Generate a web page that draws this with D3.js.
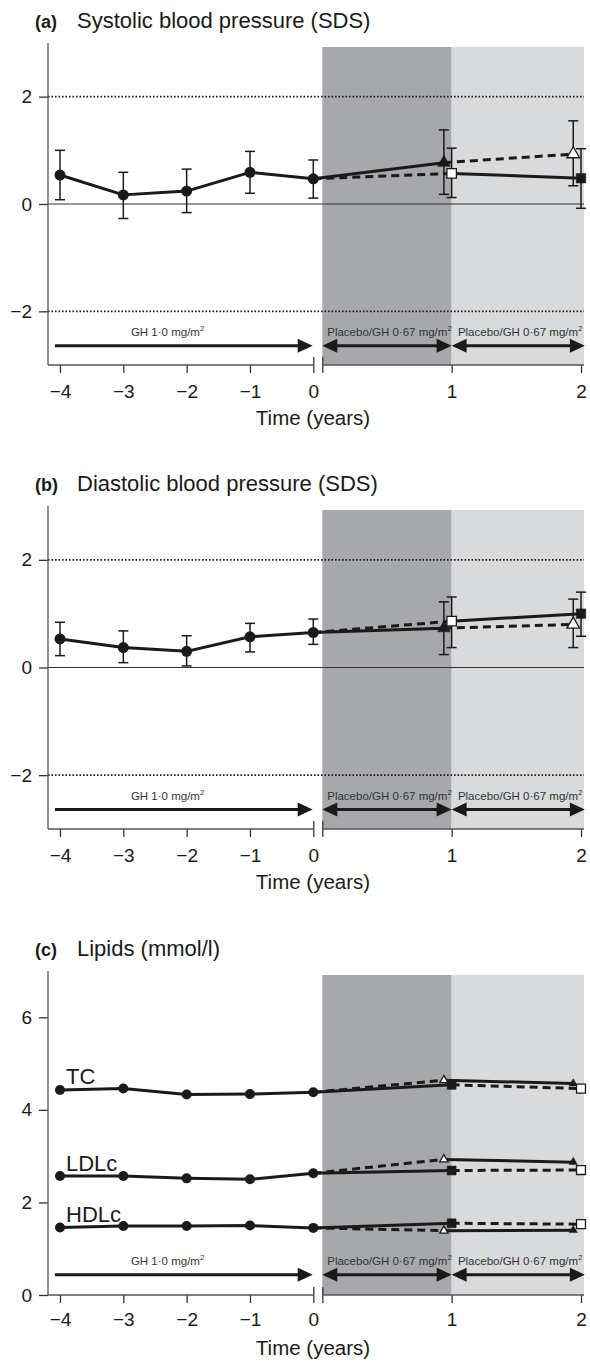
<!DOCTYPE html>
<html>
<head>
<meta charset="utf-8">
<script src="https://cdn.jsdelivr.net/npm/d3@7"></script>
<style>
body { margin: 0; background: #fff; }
svg text { font-family: "Liberation Sans", Arial, sans-serif; }
</style>
</head>
<body>
<svg width="590" height="1365"></svg>
<script>
// years on GH 1.0 mg/m2 before randomisation, then two crossover years
var preYears = [-4, -3, -2, -1, 0];
var postYears = [1, 2];

// (a) systolic blood pressure SDS, mean with error bars
var sbpMean = [0.54, 0.17, 0.24, 0.59, 0.47];
var sbpLow = [0.08, -0.27, -0.16, 0.20, 0.11];
var sbpHigh = [1.00, 0.59, 0.65, 0.98, 0.82];
var sbpTri = [0.77, 0.93], sbpTriLow = [0.18, 0.34], sbpTriHigh = [1.38, 1.55];
var sbpSq = [0.57, 0.48], sbpSqLow = [0.12, -0.08], sbpSqHigh = [1.04, 1.03];

// (b) diastolic blood pressure SDS
var dbpMean = [0.53, 0.37, 0.30, 0.57, 0.65];
var dbpLow = [0.22, 0.09, 0.03, 0.29, 0.43];
var dbpHigh = [0.84, 0.68, 0.59, 0.82, 0.90];
var dbpTri = [0.73, 0.80], dbpTriLow = [0.24, 0.37], dbpTriHigh = [1.22, 1.27];
var dbpSq = [0.86, 1.00], dbpSqLow = [0.37, 0.58], dbpSqHigh = [1.31, 1.40];

// (c) lipids mmol/l
var tcPre = [4.43, 4.46, 4.33, 4.34, 4.38], tcTri = [4.64, 4.57], tcSq = [4.54, 4.46];
var ldlPre = [2.57, 2.57, 2.52, 2.50, 2.63], ldlTri = [2.93, 2.87], ldlSq = [2.69, 2.70];
var hdlPre = [1.46, 1.49, 1.49, 1.50, 1.45], hdlTri = [1.39, 1.40], hdlSq = [1.55, 1.53];

// filled marker = on GH that year (solid line), open = placebo (dashed line)
var bpTriFilled = [true, false], bpSqFilled = [false, true];
var lipTriFilled = [false, true], lipSqFilled = [true, false];

// treatment phases drawn as arrows under the data
var phaseLabels = ['GH 1\u00b70 mg/m', 'Placebo/GH 0\u00b767 mg/m', 'Placebo/GH 0\u00b767 mg/m'];
var phaseFrom = [-4.08, 0, 1];
var phaseTo = [-0.01, 1, 2.03];
var phaseTextAt = [-2.3, 0.52, 1.53];

var svg = d3.select('svg');
var axisX = 48, plotRight = 584;
var xLeft = d3.scaleLinear().domain([-4, 0]).range([60, 313.3]);
var xRight = d3.scaleLinear().domain([0, 2]).range([322.3, 581]);
var triShift = -0.06;
var ink = '#1a1a1a';
var fontFam = '"Liberation Sans", Arial, sans-serif';

function drawPanel(p) {
    var y = d3.scaleLinear().domain(p.yDomain).range([p.bottom, p.top]);
    var g = svg.append('g');

    // shaded crossover years
    g.append('rect')
        .attr('x', xRight(0)).attr('y', p.top + 4)
        .attr('width', xRight(1) - xRight(0)).attr('height', p.bottom - p.top - 4)
        .attr('fill', '#a7a8ab');
    g.append('rect')
        .attr('x', xRight(1)).attr('y', p.top + 4)
        .attr('width', plotRight - xRight(1)).attr('height', p.bottom - p.top - 4)
        .attr('fill', '#d9dadc');

    // reference lines
    p.dotted.forEach(function(v) {
        g.append('line')
            .attr('x1', axisX).attr('x2', plotRight)
            .attr('y1', y(v)).attr('y2', y(v))
            .attr('stroke', ink).attr('stroke-width', 1.8)
            .attr('stroke-dasharray', '1.6,1.9');
    });
    if (p.zeroLine) {
        g.append('line')
            .attr('x1', axisX).attr('x2', plotRight)
            .attr('y1', y(0)).attr('y2', y(0))
            .attr('stroke', '#333').attr('stroke-width', 1.1);
    }

    // y axis
    var yAxis = d3.axisLeft(y).tickValues(p.yTicks).tickSize(9).tickPadding(7).tickFormat(d3.format('d'));
    var yG = g.append('g')
        .attr('transform', 'translate(' + [axisX, 0] + ')')
        .call(yAxis);
    yG.select('.domain').remove();
    g.append('line')
        .attr('x1', axisX).attr('x2', axisX)
        .attr('y1', p.top).attr('y2', p.bottom)
        .attr('stroke', '#555').attr('stroke-width', 1.3);

    // x axis in two pieces with a break at 0
    var xAxisL = d3.axisBottom(xLeft).tickValues(preYears).tickSize(8).tickPadding(p.tickPad).tickFormat(d3.format('d'));
    var xAxisR = d3.axisBottom(xRight).tickValues([0, 1, 2]).tickSize(8).tickPadding(p.tickPad)
        .tickFormat(function(d) { return d === 0 ? '' : d; });
    var xgL = g.append('g').attr('transform', 'translate(' + [0, p.bottom] + ')').call(xAxisL);
    var xgR = g.append('g').attr('transform', 'translate(' + [0, p.bottom] + ')').call(xAxisR);
    [xgL, xgR].forEach(function(ax) {
        ax.select('.domain').remove();
        ax.selectAll('.tick').filter(function(d) { return d === 0; })
            .select('line').attr('y1', -8);
    });
    g.append('line')
        .attr('x1', axisX).attr('x2', xLeft(0))
        .attr('y1', p.bottom).attr('y2', p.bottom)
        .attr('stroke', '#555').attr('stroke-width', 1.3);
    g.append('line')
        .attr('x1', xRight(0)).attr('x2', plotRight)
        .attr('y1', p.bottom).attr('y2', p.bottom)
        .attr('stroke', '#555').attr('stroke-width', 1.3);
    [yG, xgL, xgR].forEach(function(ax) {
        ax.attr('font-size', 19).attr('font-family', fontFam).attr('color', '#333');
        ax.selectAll('.tick line').attr('stroke-width', 1.3);
        ax.selectAll('.tick text').attr('fill', ink);
    });

    g.append('text')
        .attr('x', 313).attr('y', p.bottom + 60)
        .attr('text-anchor', 'middle').attr('font-size', 20.5).attr('fill', ink)
        .text('Time (years)');

    // title
    g.append('text')
        .attr('x', 35).attr('y', p.top - 15)
        .attr('font-size', 18).attr('font-weight', 'bold').attr('fill', ink)
        .text(p.tag);
    g.append('text')
        .attr('x', 77).attr('y', p.top - 15)
        .attr('font-size', 22).attr('fill', ink)
        .text(p.title);

    // treatment arrows
    var arrowY = y(p.arrowAt);
    phaseLabels.forEach(function(lab, i) {
        var x1 = i === 0 ? xLeft(phaseFrom[i]) : xRight(phaseFrom[i]);
        var x2 = i === 0 ? xLeft(phaseTo[i]) : xRight(phaseTo[i]);
        var xt = i === 0 ? xLeft(phaseTextAt[i]) : xRight(phaseTextAt[i]);
        var head = 15, half = 7;
        g.append('line')
            .attr('x1', i === 0 ? x1 : x1 + head - 2).attr('x2', x2 - head + 2)
            .attr('y1', arrowY).attr('y2', arrowY)
            .attr('stroke', ink).attr('stroke-width', 3);
        g.append('path')
            .attr('d', 'M' + x2 + ',' + arrowY + 'L' + (x2 - head) + ',' + (arrowY - half) + 'L' + (x2 - head) + ',' + (arrowY + half) + 'Z')
            .attr('fill', ink);
        if (i > 0) {
            g.append('path')
                .attr('d', 'M' + x1 + ',' + arrowY + 'L' + (x1 + head) + ',' + (arrowY - half) + 'L' + (x1 + head) + ',' + (arrowY + half) + 'Z')
                .attr('fill', ink);
        }
        var t = g.append('text')
            .attr('x', xt).attr('y', arrowY - 10)
            .attr('text-anchor', 'middle').attr('font-size', 11.5).attr('fill', '#333')
            .text(lab);
        t.append('tspan').attr('font-size', 8).attr('dy', -5).text('2');
    });

    var line = d3.line();
    p.series.forEach(function(s) {
        var x0 = xLeft(0), y0 = y(s.pre[4]);
        var groups = [
            {vals: s.tri, lo: s.triLow, hi: s.triHigh, filled: s.triFilled, shift: triShift, shape: 'tri'},
            {vals: s.sq, lo: s.sqLow, hi: s.sqHigh, filled: s.sqFilled, shift: 0, shape: 'sq'}
        ];
        // segments: dashed first, solid on top
        var segs = [];
        groups.forEach(function(gr) {
            var p1 = [xRight(postYears[0] + gr.shift), y(gr.vals[0])];
            var p2 = [xRight(postYears[1] + gr.shift), y(gr.vals[1])];
            segs.push({pts: [[x0, y0], p1], solid: gr.filled[0]});
            segs.push({pts: [p1, p2], solid: gr.filled[1]});
        });
        segs.sort(function(a, b) { return a.solid - b.solid; });
        segs.forEach(function(sg) {
            g.append('path')
                .attr('d', line(sg.pts))
                .attr('fill', 'none').attr('stroke', ink).attr('stroke-width', 3)
                .attr('stroke-dasharray', sg.solid ? null : '8,5');
        });
        g.append('path')
            .attr('d', line(preYears.map(function(yr, i) { return [xLeft(yr), y(s.pre[i])]; })))
            .attr('fill', 'none').attr('stroke', ink).attr('stroke-width', 3)
            .attr('stroke-linejoin', 'round');

        // error bars
        if (s.preLow) {
            var bars = preYears.map(function(yr, i) { return {x: xLeft(yr), lo: s.preLow[i], hi: s.preHigh[i]}; });
            groups.forEach(function(gr) {
                postYears.forEach(function(yr, i) {
                    bars.push({x: xRight(yr + gr.shift), lo: gr.lo[i], hi: gr.hi[i]});
                });
            });
            bars.forEach(function(b) {
                g.append('line').attr('x1', b.x).attr('x2', b.x)
                    .attr('y1', y(b.lo)).attr('y2', y(b.hi))
                    .attr('stroke', ink).attr('stroke-width', 1.5);
                [b.lo, b.hi].forEach(function(v) {
                    g.append('line').attr('x1', b.x - 5).attr('x2', b.x + 5)
                        .attr('y1', y(v)).attr('y2', y(v))
                        .attr('stroke', ink).attr('stroke-width', 1.5);
                });
            });
        }

        // markers
        g.selectAll(null)
            .data(preYears)
            .enter().append('circle')
            .attr('cx', function(d) { return xLeft(d); })
            .attr('cy', function(d, i) { return y(s.pre[i]); })
            .attr('r', p.circleR).attr('fill', ink);
        groups.forEach(function(gr) {
            postYears.forEach(function(yr, i) {
                var cx = xRight(yr + gr.shift), cy = y(gr.vals[i]);
                var sym = gr.shape === 'tri'
                    ? d3.symbol().type(d3.symbolTriangle).size(p.triSize)
                    : d3.symbol().type(d3.symbolSquare).size(p.sqSize);
                g.append('path')
                    .attr('d', sym())
                    .attr('transform', 'translate(' + [cx, cy] + ')')
                    .attr('fill', gr.filled[i] ? ink : '#fff')
                    .attr('stroke', ink).attr('stroke-width', gr.filled[i] ? 0.5 : 1.3);
            });
        });

        if (s.label) {
            g.append('text')
                .attr('x', xLeft(-4) + 6).attr('y', y(s.pre[0]) - 5.5)
                .attr('font-size', 22).attr('fill', ink)
                .text(s.label);
        }
    });
}

drawPanel({
    tag: '(a)', title: 'Systolic blood pressure (SDS)',
    top: 43, bottom: 365, yDomain: [-3, 3], yTicks: [-2, 0, 2],
    dotted: [2, -2], zeroLine: true, arrowAt: -2.64, tickPad: 12,
    circleR: 5.5, triSize: 70, sqSize: 90,
    series: [{pre: sbpMean, preLow: sbpLow, preHigh: sbpHigh,
        tri: sbpTri, triLow: sbpTriLow, triHigh: sbpTriHigh, triFilled: bpTriFilled,
        sq: sbpSq, sqLow: sbpSqLow, sqHigh: sbpSqHigh, sqFilled: bpSqFilled}]
});

drawPanel({
    tag: '(b)', title: 'Diastolic blood pressure (SDS)',
    top: 506, bottom: 829, yDomain: [-3, 3], yTicks: [-2, 0, 2],
    dotted: [2, -2], zeroLine: true, arrowAt: -2.64, tickPad: 12,
    circleR: 5.5, triSize: 70, sqSize: 90,
    series: [{pre: dbpMean, preLow: dbpLow, preHigh: dbpHigh,
        tri: dbpTri, triLow: dbpTriLow, triHigh: dbpTriHigh, triFilled: bpTriFilled,
        sq: dbpSq, sqLow: dbpSqLow, sqHigh: dbpSqHigh, sqFilled: bpSqFilled}]
});

drawPanel({
    tag: '(c)', title: 'Lipids (mmol/l)',
    top: 971, bottom: 1295, yDomain: [0, 7], yTicks: [0, 2, 4, 6],
    dotted: [], zeroLine: false, arrowAt: 0.44, tickPad: 10,
    circleR: 5, triSize: 30, sqSize: 80,
    series: [
        {label: 'TC', pre: tcPre, tri: tcTri, triFilled: lipTriFilled, sq: tcSq, sqFilled: lipSqFilled},
        {label: 'LDLc', pre: ldlPre, tri: ldlTri, triFilled: lipTriFilled, sq: ldlSq, sqFilled: lipSqFilled},
        {label: 'HDLc', pre: hdlPre, tri: hdlTri, triFilled: lipTriFilled, sq: hdlSq, sqFilled: lipSqFilled}
    ]
});
</script>
</body>
</html>
